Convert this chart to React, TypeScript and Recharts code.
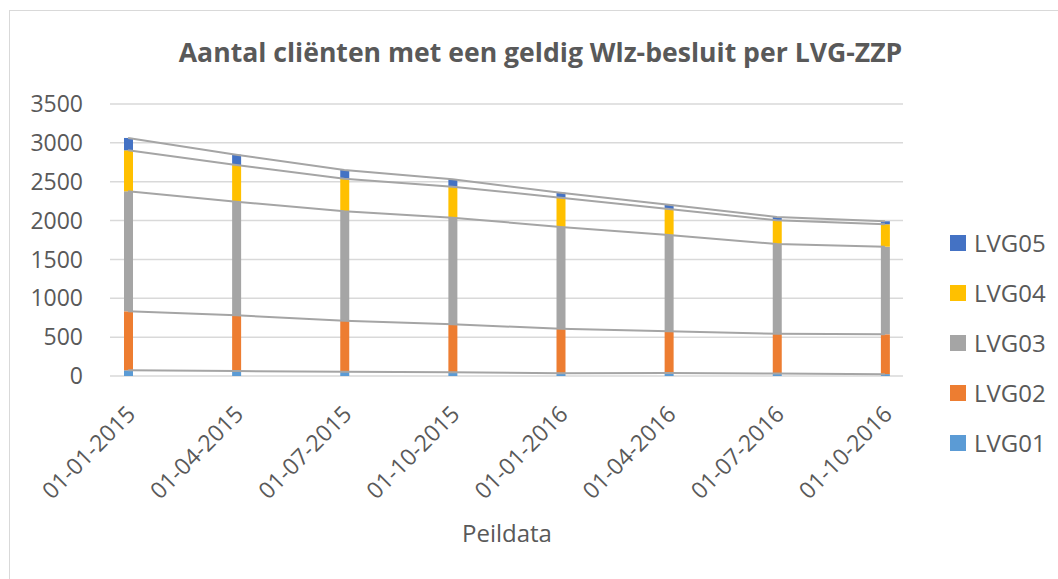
import { ComposedChart, Bar, Line, XAxis, YAxis, CartesianGrid } from 'recharts';

const peildata = ['01-01-2015', '01-04-2015', '01-07-2015', '01-10-2015', '01-01-2016', '01-04-2016', '01-07-2016', '01-10-2016'];
const lvg01 = [73, 64, 56, 47, 35, 39, 32, 24];
const lvg02 = [759, 717, 656, 618, 574, 536, 512, 512];
const lvg03 = [1545, 1462, 1407, 1372, 1309, 1240, 1155, 1128];
const lvg04 = [527, 473, 420, 399, 377, 334, 305, 288];
const lvg05 = [159, 132, 112, 95, 64, 56, 42, 39];
const yTicks = [0, 500, 1000, 1500, 2000, 2500, 3000, 3500];

const series = [
  { key: 'LVG01', values: lvg01, color: '#5B9BD5' },
  { key: 'LVG02', values: lvg02, color: '#ED7D31' },
  { key: 'LVG03', values: lvg03, color: '#A5A5A5' },
  { key: 'LVG04', values: lvg04, color: '#FFC000' },
  { key: 'LVG05', values: lvg05, color: '#4472C4' },
];

// rows with the segment values plus the running top of each segment (for the series lines)
const data = peildata.map((d, i) => {
  const row: Record<string, any> = { peildatum: d };
  let top = 0;
  series.forEach(s => {
    row[s.key] = s.values[i];
    top += s.values[i];
    row[`${s.key}_top`] = top;
  });
  return row;
});

const FONT = '"Open Sans", sans-serif';
const TEXT = '#595959';

const DateTick = ({ x, y, payload }: any) => (
  <g transform={`translate(${x + 3},${y + 26})`}>
    <text x={0} y={0} dy="0.35em" textAnchor="end" transform="rotate(-45)" fill={TEXT} fontSize={23} fontFamily={FONT}>
      {payload.value}
    </text>
  </g>
);

export default function App() {
  return (
    <div style={{ position: 'absolute', left: 0, top: 0, width: 1058, height: 579, background: '#fff', overflow: 'hidden' }}>
      <div style={{ position: 'absolute', left: 9, top: 10, width: 1100, height: 600, borderLeft: '1px solid #D9D9D9', borderTop: '1px solid #D9D9D9' }} />

      <div style={{ position: 'absolute', left: 0, top: 39, width: 1081, textAlign: 'center', fontFamily: FONT, fontWeight: 700, fontSize: 26.6, lineHeight: '27px', color: TEXT, whiteSpace: 'nowrap' }}>
        Aantal cliënten met een geldig Wlz-besluit per LVG-ZZP
      </div>

      <div style={{ position: 'absolute', left: 0, top: 0 }}>
        <ComposedChart width={1058} height={579} data={data} margin={{ top: 104, right: 155, bottom: 103, left: 30 }}>
          <CartesianGrid vertical={false} stroke="#D9D9D9" strokeWidth={1.5} />
          <XAxis
            dataKey="peildatum"
            height={100}
            padding={{ left: -36, right: -36 }}
            axisLine={false}
            tickLine={false}
            interval={0}
            tick={<DateTick />}
          />
          <YAxis
            width={80}
            domain={[0, 3500]}
            ticks={yTicks}
            axisLine={false}
            tickLine={false}
            tickMargin={21}
            tick={{ fill: TEXT, fontSize: 23, fontFamily: FONT }}
          />
          {series.map(s => (
            <Line
              key={`${s.key}_line`}
              dataKey={`${s.key}_top`}
              type="linear"
              stroke="#A5A5A5"
              strokeWidth={2}
              dot={false}
              activeDot={false}
              legendType="none"
              isAnimationActive={false}
            />
          ))}
          {series.map(s => (
            <Bar key={s.key} dataKey={s.key} stackId="a" fill={s.color} barSize={9} isAnimationActive={false} />
          ))}
        </ComposedChart>
      </div>

      <div style={{ position: 'absolute', left: 0, top: 521, width: 1014, textAlign: 'center', fontFamily: FONT, fontSize: 24, lineHeight: '24px', color: TEXT }}>
        Peildata
      </div>

      <div style={{ position: 'absolute', left: 950, top: 218 }}>
        {[...series].reverse().map(s => (
          <div key={s.key} style={{ display: 'flex', alignItems: 'center', height: 50 }}>
            <div style={{ width: 16, height: 16, background: s.color, marginRight: 8 }} />
            <span style={{ fontFamily: FONT, fontSize: 24, lineHeight: '24px', color: TEXT }}>{s.key}</span>
          </div>
        ))}
      </div>
    </div>
  );
}
